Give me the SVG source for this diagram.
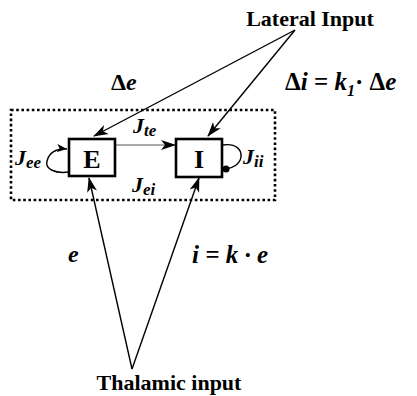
<svg xmlns="http://www.w3.org/2000/svg" width="417" height="396" viewBox="0 0 417 396">
<style>
.t{font-family:"Liberation Serif","Times New Roman",serif;font-weight:bold;fill:#000}
.v{font-style:italic}
.ln{stroke:#000;fill:none;stroke-width:1.4}
.box{fill:#fff;stroke:#000;stroke-width:2.6}
</style>
<defs>
<marker id="ah" markerUnits="userSpaceOnUse" markerWidth="16" markerHeight="12" refX="14" refY="5" orient="auto" viewBox="0 0 16 10">
<path d="M0,0 L15,5 L0,10 L4,5 z" fill="#000"/>
</marker>
<marker id="ahs" markerUnits="userSpaceOnUse" markerWidth="11" markerHeight="9" refX="10" refY="4" orient="auto" viewBox="0 0 11 8">
<path d="M0,0 L10,4 L0,8 L2.5,4 z" fill="#000"/>
</marker>
</defs>
<rect x="11" y="110" width="264" height="90" fill="none" stroke="#000" stroke-width="2.6" stroke-dasharray="2.6 2.6"/>
<g id="connectors">
<line class="ln" x1="295" y1="30" x2="94" y2="136" marker-end="url(#ah)"/>
<line class="ln" x1="295" y1="30" x2="208" y2="136" marker-end="url(#ah)" stroke-width="1"/>
<line class="ln" x1="132" y1="369" x2="89" y2="178" marker-end="url(#ah)"/>
<line class="ln" x1="132" y1="369" x2="199" y2="178" marker-end="url(#ah)"/>
<line x1="116" y1="145" x2="175" y2="145" stroke="#555" stroke-width="1" marker-end="url(#ah)"/>
<path class="ln" d="M69,172 C55,174 45,169 47,161 C49,153 56,148 67,149" stroke-width="1.2" marker-end="url(#ahs)"/>
<path class="ln" d="M223,145 C236,143 242,150 241,157 C240,164 233,168 226,169" stroke-width="1.2"/>
<circle cx="226" cy="169" r="3.5" fill="#000"/>
</g>
<g id="E">
<rect class="box" x="69" y="139" width="46" height="37"/>
<text class="t" x="92" y="167.5" font-size="26" text-anchor="middle">E</text>
</g>
<g id="I">
<rect class="box" x="176" y="139" width="46" height="38"/>
<text class="t" x="199" y="167.5" font-size="26" text-anchor="middle">I</text>
</g>
<g id="labels">
<text class="t" x="310" y="26" font-size="22" text-anchor="middle">Lateral Input</text>
<text class="t" x="169" y="390" font-size="22" text-anchor="middle">Thalamic input</text>
<text class="t" x="111" y="90" font-size="24">Δ<tspan class="v">e</tspan></text>
<text class="t" x="285" y="90" font-size="25">Δ<tspan class="v">i</tspan> = <tspan class="v">k</tspan><tspan class="v" font-size="16" dy="6">1</tspan><tspan dy="-6">· Δ</tspan><tspan class="v">e</tspan></text>
<text class="t v" x="68" y="262" font-size="24">e</text>
<text class="t v" x="192" y="263" font-size="25">i = k · e</text>
<text class="t v" x="15" y="165" font-size="22">J<tspan font-size="17" dy="3">ee</tspan></text>
<text class="t v" x="133" y="133" font-size="22">J<tspan font-size="17" dy="3">te</tspan></text>
<text class="t v" x="132" y="192" font-size="22">J<tspan font-size="17" dy="3">ei</tspan></text>
<text class="t v" x="243" y="164" font-size="22">J<tspan font-size="17" dy="3">ii</tspan></text>
</g>
</svg>
